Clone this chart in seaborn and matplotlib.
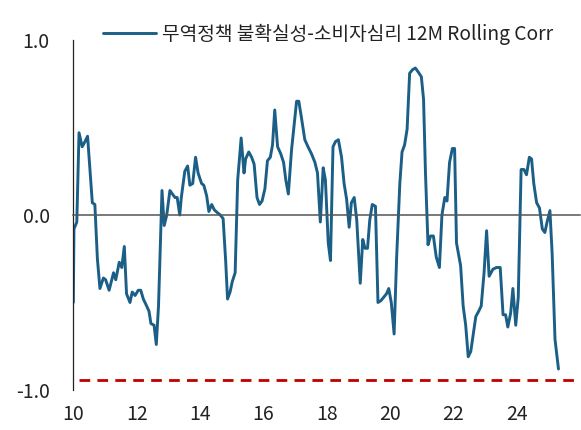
import matplotlib
matplotlib.use("Agg")
import matplotlib.pyplot as plt
import seaborn as sns
import pandas as pd

# ---- data ----
years = [
    2010.00, 2010.02, 2010.11, 2010.18, 2010.28, 2010.37, 2010.45, 2010.60, 2010.68, 2010.76,
    2010.84, 2010.95, 2011.02, 2011.13, 2011.20, 2011.27, 2011.34, 2011.45, 2011.53, 2011.61,
    2011.68, 2011.79, 2011.86, 2011.95, 2012.05, 2012.13, 2012.21, 2012.29, 2012.39, 2012.45,
    2012.55, 2012.62, 2012.69, 2012.80, 2012.87, 2012.95, 2013.05, 2013.13, 2013.21, 2013.28,
    2013.36, 2013.41, 2013.52, 2013.61, 2013.68, 2013.77, 2013.86, 2013.94, 2014.05, 2014.12,
    2014.21, 2014.28, 2014.37, 2014.45, 2014.55, 2014.64, 2014.73, 2014.81, 2014.87, 2014.95,
    2015.02, 2015.11, 2015.19, 2015.30, 2015.39, 2015.44, 2015.54, 2015.63, 2015.71, 2015.80,
    2015.88, 2015.96, 2016.05, 2016.13, 2016.22, 2016.29, 2016.36, 2016.45, 2016.55, 2016.64,
    2016.71, 2016.79, 2016.89, 2016.96, 2017.05, 2017.12, 2017.20, 2017.31, 2017.41, 2017.52,
    2017.63, 2017.71, 2017.80, 2017.89, 2017.96, 2018.05, 2018.12, 2018.20, 2018.28, 2018.37,
    2018.47, 2018.55, 2018.63, 2018.71, 2018.78, 2018.87, 2018.95, 2019.06, 2019.14, 2019.21,
    2019.29, 2019.36, 2019.44, 2019.54, 2019.62, 2019.71, 2019.80, 2019.89, 2019.96, 2020.04,
    2020.13, 2020.21, 2020.31, 2020.38, 2020.46, 2020.54, 2020.62, 2020.71, 2020.80, 2020.88,
    2020.99, 2021.06, 2021.12, 2021.20, 2021.28, 2021.37, 2021.46, 2021.56, 2021.64, 2021.73,
    2021.80, 2021.88, 2021.97, 2022.04, 2022.10, 2022.23, 2022.31, 2022.39, 2022.47, 2022.55,
    2022.63, 2022.71, 2022.80, 2022.88, 2022.97, 2023.05, 2023.13, 2023.25, 2023.36, 2023.48,
    2023.57, 2023.65, 2023.72, 2023.81, 2023.88, 2023.97, 2024.05, 2024.14, 2024.23, 2024.31,
    2024.40, 2024.47, 2024.54, 2024.63, 2024.72, 2024.81, 2024.89, 2024.96, 2025.05, 2025.12,
    2025.21, 2025.32,
]
corr = [
    -0.50, -0.08, -0.04, 0.47, 0.39, 0.42, 0.45, 0.07, 0.06, -0.25,
    -0.42, -0.36, -0.37, -0.43, -0.38, -0.33, -0.37, -0.27, -0.30, -0.18,
    -0.45, -0.50, -0.44, -0.46, -0.43, -0.43, -0.48, -0.51, -0.55, -0.62,
    -0.63, -0.74, -0.52, 0.14, -0.06, 0.00, 0.14, 0.12, 0.10, 0.10,
    0.00, 0.10, 0.25, 0.28, 0.17, 0.18, 0.33, 0.24, 0.18, 0.17,
    0.11, 0.02, 0.06, 0.03, 0.013, 0.00, -0.02, -0.26, -0.48, -0.44,
    -0.38, -0.33, 0.20, 0.44, 0.24, 0.32, 0.36, 0.33, 0.29, 0.10,
    0.06, 0.08, 0.15, 0.31, 0.33, 0.40, 0.60, 0.39, 0.35, 0.30,
    0.20, 0.12, 0.37, 0.49, 0.65, 0.65, 0.56, 0.43, 0.39, 0.35,
    0.30, 0.24, -0.04, 0.27, 0.20, -0.16, -0.26, 0.39, 0.42, 0.43,
    0.33, 0.18, 0.09, -0.07, 0.07, 0.10, -0.03, -0.39, -0.14, -0.19,
    -0.19, -0.03, 0.06, 0.05, -0.50, -0.49, -0.47, -0.45, -0.42, -0.50,
    -0.68, -0.24, 0.18, 0.36, 0.40, 0.49, 0.81, 0.83, 0.84, 0.82,
    0.79, 0.66, 0.24, -0.17, -0.12, -0.12, -0.24, -0.30, 0.00, 0.10,
    0.08, 0.30, 0.38, 0.38, -0.16, -0.29, -0.52, -0.63, -0.81, -0.78,
    -0.68, -0.58, -0.55, -0.52, -0.33, -0.09, -0.35, -0.31, -0.30, -0.30,
    -0.57, -0.57, -0.64, -0.56, -0.42, -0.63, -0.47, 0.26, 0.26, 0.23,
    0.33, 0.32, 0.18, 0.07, 0.04, -0.08, -0.10, -0.04, 0.025, -0.22,
    -0.71, -0.88,
]
series_label = "무역정책 불확실성-소비자심리 12M Rolling Corr"
threshold = -0.94
x_ticks = [2010, 2012, 2014, 2016, 2018, 2020, 2022, 2024, 2026]
x_tick_labels = ["10", "12", "14", "16", "18", "20", "22", "24", ""]
y_ticks = [-1.0, 0.0, 1.0]
y_tick_labels = ["-1.0", "0.0", "1.0"]

df = pd.DataFrame({"year": years, "corr": corr})

# ---- styling ----
sns.set_style("white")
plt.rcParams["font.family"] = ["Noto Sans CJK KR", "DejaVu Sans"]

line_color = "#1B5F87"
fig = plt.figure(figsize=(5.81, 4.30), dpi=100)
ax = fig.add_axes([0.1262, 0.0930, 0.8721, 0.814])

sns.lineplot(data=df, x="year", y="corr", ax=ax, color=line_color,
             linewidth=2.1, label=series_label, legend=True)
ax.axhline(threshold, xmin=0.012, color="#C00000", linewidth=2.0,
           linestyle=(0, (3.85, 2.6)), zorder=1)

ax.set_xlim(2010, 2026)
ax.set_ylim(-1.0, 1.0)
ax.set_xlabel("")
ax.set_ylabel("")

for s in ["top", "right"]:
    ax.spines[s].set_visible(False)
ax.spines["left"].set_color("#222222")
ax.spines["left"].set_linewidth(0.9)
ax.spines["bottom"].set_position(("data", 0))
ax.spines["bottom"].set_color("#555555")
ax.spines["bottom"].set_linewidth(1.1)

ax.set_yticks(y_ticks)
ax.set_yticklabels(y_tick_labels)
ax.tick_params(axis="y", direction="in", length=4, width=0.9, color="#222222",
               pad=17, labelsize=14, labelcolor="#222222")
ax.set_xticks(x_ticks)
ax.tick_params(axis="x", direction="in", length=4, width=1.0, color="#444444",
               labelbottom=False)

sec = ax.secondary_xaxis("bottom")
sec.set_xticks(x_ticks)
sec.set_xticklabels(x_tick_labels)
sec.tick_params(length=0, pad=10, labelsize=14, labelcolor="#222222")
sec.spines["bottom"].set_visible(False)

leg = ax.legend(loc="center left", bbox_to_anchor=(0.1778, 0.920),
                bbox_transform=fig.transFigure, frameon=False, fontsize=13.8,
                borderpad=0, borderaxespad=0, handlelength=2.75,
                handletextpad=0.3)
for t in leg.get_texts():
    t.set_color("#222222")
for h in leg.get_lines():
    h.set_linewidth(2.1)

fig.savefig("out.png", dpi=100)
